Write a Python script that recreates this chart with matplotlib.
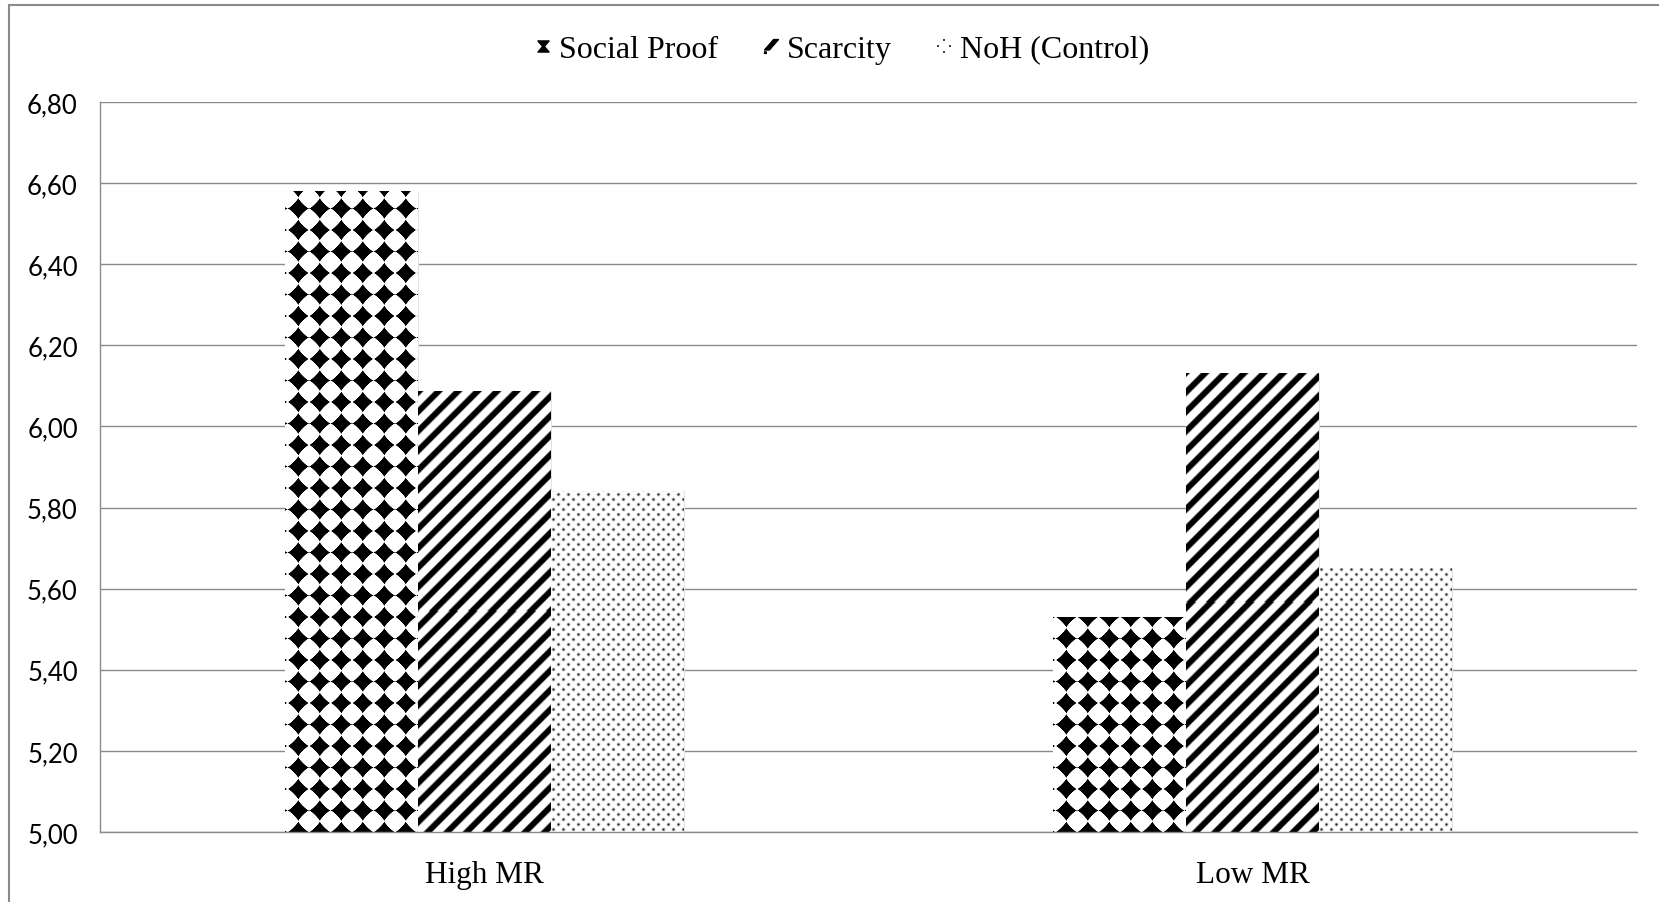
import numpy as np
import matplotlib
matplotlib.use("Agg")
import matplotlib.pyplot as plt
from matplotlib.path import Path
from matplotlib.lines import Line2D
from matplotlib.patches import Rectangle

# data
groups = ["High MR", "Low MR"]
social_proof = [6.58, 5.53]
scarcity = [6.085, 6.13]
noh_control = [5.84, 5.65]
series_names = ["Social Proof", "Scarcity", "NoH (Control)"]
y_ticks = [5.00, 5.20, 5.40, 5.60, 5.80, 6.00, 6.20, 6.40, 6.60, 6.80]
y_tick_labels = ["5,00", "5,20", "5,40", "5,60", "5,80", "6,00", "6,20", "6,40", "6,60", "6,80"]

GRID = "#8a8a8a"


# fill textures, built in bar pixel space (row 0 = bottom of bar)
def diamonds(w, h):
    p = 21.5
    u = np.arange(w)[None, :] + 0.5
    v = np.arange(h)[:, None] + 0.5
    du = (u - 13.3 + p / 2) % p - p / 2
    dv = (v + p / 2) % p - p / 2
    q = 0.85
    d = (np.abs(du) ** q + np.abs(dv) ** q) ** (1 / q)
    ink = np.clip(10.4 - d + 0.5, 0, 1)
    return 1 - ink


def stripes(w, h):
    P = 19.5
    u = np.arange(w)[None, :] + 0.5
    v = np.arange(h)[:, None] + 0.5
    t = ((u - v) / P) % 1.0
    dist = np.abs(t - 0.5) * P / np.sqrt(2)
    ink = np.clip((3.8 - dist) / 1.6, 0, 1)
    return 1 - ink


def dots(w, h):
    u = np.arange(w)[None, :] + 0.5
    v = np.arange(h)[:, None] + 0.5
    best = np.full((h, w), 99.0)
    j0 = np.floor(v / 5.0)
    for j in (j0 - 1, j0, j0 + 1):
        vc = j * 5.0 + 2.5
        shift = 5.0 * (j % 2)
        du = (u - shift - 2.5 + 5.0) % 10.0 - 5.0
        d = np.sqrt(du ** 2 + (v - vc) ** 2)
        best = np.minimum(best, d)
    ink = 0.9 * np.exp(-best ** 2 / (2 * 0.95 ** 2))
    return 1 - ink


textures = [diamonds, stripes, dots]

fig = plt.figure(figsize=(16.59, 9.03), dpi=100)
ax = fig.add_axes([100 / 1659, 1 - 833 / 903, 1537 / 1659, 730 / 903])

ymin, ymax = 5.0, 6.8
ax.set_xlim(-0.5, 1.5)
ax.set_ylim(ymin, ymax)

x = np.arange(len(groups))
width = 0.173
offsets = [-width, 0, width]
all_values = [social_proof, scarcity, noh_control]

for values, off, tex in zip(all_values, offsets, textures):
    bars = ax.bar(x + off, values, width, color="white", edgecolor="#e2e2e2",
                  linewidth=0.8, zorder=2)
    for bar, val in zip(bars, values):
        bx = bar.get_x()
        (px0, py0) = ax.transData.transform((bx, ymin))
        (px1, py1) = ax.transData.transform((bx + width, val))
        wpx = int(round(px1 - px0))
        hpx = int(round(py1 - py0))
        ax.imshow(tex(wpx, hpx), cmap="gray", vmin=0, vmax=1, origin="lower",
                  extent=(bx, bx + width, ymin, val), aspect="auto",
                  interpolation="nearest", zorder=2.5)

ax.set_xlim(-0.5, 1.5)
ax.set_ylim(ymin, ymax)

ax.set_yticks(y_ticks)
ax.set_yticklabels(y_tick_labels, fontfamily="Lato", fontsize=18.5)
ax.set_xticks(x)
ax.set_xticklabels(groups, fontfamily="Liberation Serif", fontsize=22.5)
ax.tick_params(axis="y", length=0, pad=16)
ax.tick_params(axis="x", length=0, pad=20)

ax.yaxis.grid(True, color=GRID, linewidth=1.0)
ax.set_axisbelow(True)
for side in ["top", "right"]:
    ax.spines[side].set_visible(False)
for side in ["left", "bottom"]:
    ax.spines[side].set_color(GRID)
    ax.spines[side].set_linewidth(1.0)

# legend symbols
hourglass = Path([(-1, 1), (1, 1), (0.15, 0), (1, -1), (-1, -1), (-0.15, 0), (-1, 1)],
                 [Path.MOVETO] + [Path.LINETO] * 5 + [Path.CLOSEPOLY])
slash = Path([(-1, -0.5), (0.3, 1), (1, 1), (-0.3, -0.5), (-1, -0.5),
              (-1, -1), (-0.75, -1), (-0.75, -0.78), (-1, -0.78), (-1, -1)],
             [Path.MOVETO, Path.LINETO, Path.LINETO, Path.LINETO, Path.CLOSEPOLY,
              Path.MOVETO, Path.LINETO, Path.LINETO, Path.LINETO, Path.CLOSEPOLY])
pts = []
codes = []
for cx, cy in [(0, 0.85), (-0.85, 0), (0.85, 0), (0, -0.85)]:
    s = 0.18
    pts += [(cx - s, cy - s), (cx + s, cy - s), (cx + s, cy + s), (cx - s, cy + s), (cx - s, cy - s)]
    codes += [Path.MOVETO, Path.LINETO, Path.LINETO, Path.LINETO, Path.CLOSEPOLY]
four_dots = Path(pts, codes)

handles = [
    Line2D([], [], linestyle="none", marker=hourglass, markersize=8, color="black"),
    Line2D([], [], linestyle="none", marker=slash, markersize=10, color="black"),
    Line2D([], [], linestyle="none", marker=four_dots, markersize=10, color="#444444",
           markeredgewidth=0),
]
fig.legend(handles, series_names, loc="center",
           bbox_to_anchor=(0.5 + 12 / 1659, 1 - 50 / 903),
           ncol=3, frameon=False, prop={"family": "Liberation Serif", "size": 23},
           handlelength=0.6, handletextpad=0.2, columnspacing=1.35)

# outer chart frame
fig.add_artist(Rectangle((9 / 1659, -0.1), 2.0, 1.1 - 6 / 903, transform=fig.transFigure,
                         fill=False, edgecolor=GRID, linewidth=1.5))

fig.savefig("out.png", dpi=100)
